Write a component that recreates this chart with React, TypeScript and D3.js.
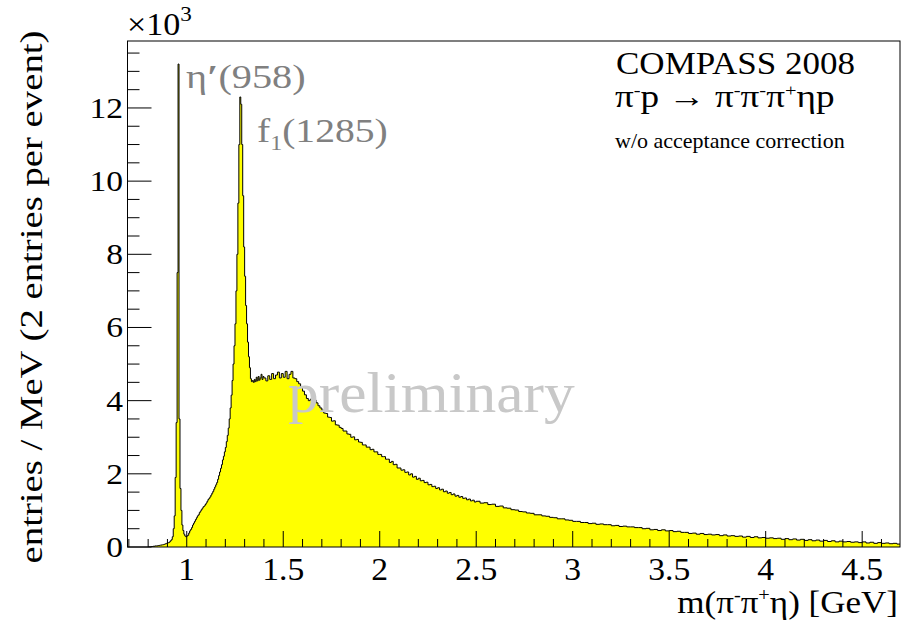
import React from "react";
import * as d3 from "d3";

// Histogram: m(pi- pi+ eta) spectrum, values in units of 10^3 entries / MeV
// Region A: 0.800 - 1.400 GeV, 5 MeV bins
const lowStart = 0.8;
const lowWidth = 0.005;
const lowCounts = [
  0.0, 0.0, 0.0, 0.01, 0.01, 0.02, 0.02, 0.03, 0.03, 0.03,
  0.04, 0.04, 0.05, 0.05, 0.06, 0.06, 0.07, 0.08, 0.09, 0.1,
  0.11, 0.12, 0.14, 0.17, 0.2, 0.28, 0.5, 0.85, 1.9, 3.4,
  7.5, 13.2, 3.5, 1.6, 1.0, 0.6, 0.45, 0.35, 0.3, 0.28,
  0.3, 0.32, 0.38, 0.44, 0.48, 0.53, 0.6, 0.65, 0.7, 0.75,
  0.8, 0.85, 0.88, 0.94, 0.98, 1.02, 1.06, 1.1, 1.12, 1.16,
  1.2, 1.25, 1.3, 1.33, 1.37, 1.42, 1.47, 1.52, 1.58, 1.64,
  1.7, 1.76, 1.85, 1.95, 2.05, 2.15, 2.25, 2.38, 2.48, 2.6,
  2.72, 2.88, 3.05, 3.25, 3.5, 3.8, 4.15, 4.55, 5.0, 5.5,
  6.1, 7.0, 8.0, 9.4, 11.0, 12.3, 12.1, 11.0, 9.6, 8.2,
  7.4, 6.6, 6.1, 5.6, 5.2, 4.9, 4.6, 4.52, 4.55, 4.5,
  4.58, 4.52, 4.64, 4.54, 4.66, 4.56, 4.62, 4.72, 4.58, 4.66,
];
// Region B: 1.40 - 2.50 GeV, 10 MeV bins
const midStart = 1.4;
const midWidth = 0.01;
const midCounts = [
  4.62, 4.54, 4.68, 4.58, 4.74, 4.6, 4.7, 4.78, 4.62, 4.74,
  4.64, 4.8, 4.6, 4.72, 4.8, 4.62, 4.6, 4.52, 4.46, 4.36,
  4.26, 4.16, 4.06, 4.0, 4.04, 4.08, 4.02, 3.94, 3.86, 3.8,
  3.74, 3.66, 3.65, 3.55, 3.54, 3.44, 3.45, 3.34, 3.33, 3.27,
  3.24, 3.17, 3.17, 3.09, 3.08, 3.0, 3.01, 2.93, 2.94, 2.87,
  2.86, 2.79, 2.79, 2.73, 2.73, 2.66, 2.67, 2.6, 2.6, 2.53,
  2.53, 2.47, 2.47, 2.4, 2.4, 2.31, 2.34, 2.25, 2.26, 2.16,
  2.16, 2.1, 2.11, 2.04, 2.05, 1.97, 2.0, 1.91, 1.93, 1.85,
  1.88, 1.81, 1.82, 1.76, 1.77, 1.7, 1.71, 1.65, 1.66, 1.6,
  1.62, 1.56, 1.58, 1.51, 1.53, 1.47, 1.49, 1.43, 1.45, 1.39,
  1.41, 1.36, 1.38, 1.33, 1.34, 1.29, 1.31, 1.26, 1.28, 1.23,
];
// Region C: 2.50 - 4.70 GeV, 20 MeV bins
const highStart = 2.5;
const highWidth = 0.02;
const highCounts = [
  1.25, 1.2, 1.21, 1.16, 1.17, 1.11, 1.12, 1.07, 1.06, 1.02,
  1.01, 0.97, 0.96, 0.93, 0.92, 0.88, 0.88, 0.85, 0.84, 0.81,
  0.8, 0.77, 0.77, 0.74, 0.73, 0.7, 0.7, 0.67, 0.67, 0.64,
  0.65, 0.62, 0.63, 0.61, 0.61, 0.58, 0.59, 0.56, 0.57, 0.55,
  0.55, 0.53, 0.53, 0.5, 0.51, 0.47, 0.48, 0.45, 0.47, 0.44,
  0.45, 0.42, 0.43, 0.4, 0.4, 0.37, 0.38, 0.35, 0.37, 0.34,
  0.35, 0.33, 0.34, 0.31, 0.33, 0.3, 0.31, 0.29, 0.3, 0.27,
  0.29, 0.26, 0.28, 0.25, 0.26, 0.24, 0.25, 0.23, 0.24, 0.21,
  0.23, 0.2, 0.22, 0.19, 0.21, 0.18, 0.2, 0.17, 0.19, 0.16,
  0.18, 0.15, 0.17, 0.14, 0.16, 0.14, 0.15, 0.13, 0.14, 0.12,
  0.14, 0.11, 0.13, 0.1, 0.12, 0.1, 0.11, 0.09, 0.1, 0.08,
];

const xMajorTicks = [1, 1.5, 2, 2.5, 3, 3.5, 4, 4.5];
const xTickLabels = ["1", "1.5", "2", "2.5", "3", "3.5", "4", "4.5"];
const yMajorTicks = [0, 2, 4, 6, 8, 10, 12];
const yTickLabels = ["0", "2", "4", "6", "8", "10", "12"];

const SERIF = "'Liberation Serif', 'Times New Roman', serif";

export default function App() {
  const W = 903;
  const H = 629;
  const left = 127.5, right = 900, top = 41, bottom = 547;
  const x = d3.scaleLinear().domain([0.693, 4.696]).range([left, right]);
  const y = d3.scaleLinear().domain([0, 13.83]).range([bottom, top]);

  const bins: { x0: number; x1: number; v: number }[] = [];
  const addRegion = (start: number, w: number, arr: number[]) =>
    arr.forEach((v, i) => bins.push({ x0: start + i * w, x1: start + (i + 1) * w, v }));
  addRegion(lowStart, lowWidth, lowCounts);
  addRegion(midStart, midWidth, midCounts);
  addRegion(highStart, highWidth, highCounts);

  const pts: [number, number][] = [[bins[0].x0, 0]];
  bins.forEach((b) => pts.push([b.x0, b.v]));
  const last = bins[bins.length - 1];
  pts.push([last.x1, last.v]);
  pts.push([last.x1, 0]);

  const area = d3
    .area<[number, number]>()
    .x((d) => x(d[0]))
    .y0(y(0))
    .y1((d) => y(d[1]))
    .curve(d3.curveStepAfter);
  const line = d3
    .line<[number, number]>()
    .x((d) => x(d[0]))
    .y((d) => y(d[1]))
    .curve(d3.curveStepAfter);

  const xMinor = d3
    .range(7, 47)
    .map((k) => k / 10)
    .filter((v) => !xMajorTicks.some((m) => Math.abs(m - v) < 1e-6));
  const yMinor = d3
    .range(1, 28)
    .map((k) => k / 2)
    .filter((v) => v % 2 !== 0 && v <= 13.83);

  const st = (px: number, py: number, sx: number) => `translate(${px},${py}) scale(${sx},1)`;

  return (
    <svg
      width={W}
      height={H}
      style={{ position: "absolute", left: 0, top: 0, background: "#fff", fontFamily: SERIF }}
      fontFamily={SERIF}
    >
      <defs>
        <clipPath id="frame">
          <rect x={left} y={top} width={right - left} height={bottom - top} />
        </clipPath>
      </defs>
      <rect x={0} y={0} width={W} height={H} fill="#fff" />
      <g clipPath="url(#frame)">
        <path d={area(pts) || ""} fill="#ffff00" stroke="none" />
        <path d={line(pts) || ""} fill="none" stroke="#000" strokeWidth={1} />
      </g>
      {/* preliminary watermark */}
      <text transform={st(288, 412, 1.06)} fontSize={58} fill="#c8c8c8">preliminary</text>

      {/* frame */}
      <rect x={left} y={top} width={right - left} height={bottom - top} fill="none" stroke="#000" strokeWidth={1} />

      {/* x ticks */}
      {xMajorTicks.map((t) => (
        <line key={"xM" + t} x1={x(t)} x2={x(t)} y1={bottom} y2={bottom - 16} stroke="#000" />
      ))}
      {xMinor.map((t) => (
        <line key={"xm" + t} x1={x(t)} x2={x(t)} y1={bottom} y2={bottom - 8} stroke="#000" />
      ))}
      {xMajorTicks.map((t, i) => (
        <text key={"xl" + t} transform={st(x(t), 580, 1.05)} fontSize={32} textAnchor="middle">{xTickLabels[i]}</text>
      ))}

      {/* y ticks */}
      {yMajorTicks.map((t) => (
        <line key={"yM" + t} x1={left} x2={left + 24} y1={y(t)} y2={y(t)} stroke="#000" />
      ))}
      {yMinor.map((t) => (
        <line key={"ym" + t} x1={left} x2={left + 12} y1={y(t)} y2={y(t)} stroke="#000" />
      ))}
      {yMajorTicks.map((t, i) => (
        <text key={"yl" + t} transform={st(123, y(t) + 10, 1.12)} fontSize={30} textAnchor="end">{yTickLabels[i]}</text>
      ))}

      {/* exponent */}
      <text transform={st(127, 35, 1.1)} fontSize={31}>
        ×10<tspan dy={-14} fontSize={21}>3</tspan>
      </text>

      {/* axis titles */}
      <text transform={st(898, 613, 1.13)} fontSize={31} textAnchor="end">
        m(π<tspan dy={-12} fontSize={18}>-</tspan><tspan dy={12}>π</tspan><tspan dy={-12} fontSize={18}>+</tspan><tspan dy={12}>η) [GeV]</tspan>
      </text>
      <text transform="translate(42,297) rotate(-90) scale(1.25,1)" fontSize={31} textAnchor="middle">
        entries / MeV (2 entries per event)
      </text>

      {/* resonance labels */}
      <text transform={st(186, 88, 1.22)} fontSize={33} fill="#808080">
        η<tspan fontWeight="bold">′</tspan>(958)
      </text>
      <text transform={st(257, 142, 1.2)} fontSize={33} fill="#808080">
        f<tspan dy={8} fontSize={20}>1</tspan><tspan dy={-8}>(1285)</tspan>
      </text>

      {/* legend */}
      <text transform={st(616, 74, 1.13)} fontSize={31}>COMPASS 2008</text>
      <text transform={st(615, 107, 1.2)} fontSize={31}>
        π<tspan dy={-11} fontSize={17}>-</tspan><tspan dy={11}>p → π</tspan><tspan dy={-11} fontSize={17}>-</tspan><tspan dy={11}>π</tspan><tspan dy={-11} fontSize={17}>-</tspan><tspan dy={11}>π</tspan><tspan dy={-11} fontSize={17}>+</tspan><tspan dy={11}>ηp</tspan>
      </text>
      <text transform={st(615, 148, 1.0)} fontSize={22}>w/o acceptance correction</text>
    </svg>
  );
}
